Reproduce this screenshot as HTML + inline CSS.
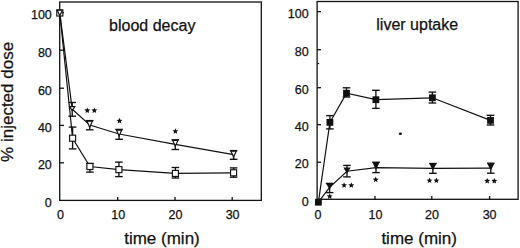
<!DOCTYPE html>
<html><head><meta charset="utf-8"><style>
html,body{margin:0;padding:0;background:#fff;}
body{width:520px;height:248px;overflow:hidden;}
svg{display:block;}
text{font-family:"Liberation Sans",sans-serif;fill:#111;stroke:#111;stroke-width:0.25px;}
</style></head><body>
<svg width="520" height="248" viewBox="0 0 520 248">
<g stroke="#111" stroke-width="1.3" fill="none">
<rect x="59.7" y="2" width="201.6" height="198.4"/>
<rect x="317.1" y="1.5" width="201" height="197.8"/>
<line x1="59.7" y1="12.7" x2="64" y2="12.7"/>
<line x1="59.7" y1="50.2" x2="64" y2="50.2"/>
<line x1="59.7" y1="88.2" x2="64" y2="88.2"/>
<line x1="59.7" y1="125.4" x2="64" y2="125.4"/>
<line x1="59.7" y1="162.8" x2="64" y2="162.8"/>
<line x1="117.7" y1="200.4" x2="117.7" y2="197"/>
<line x1="175.0" y1="200.4" x2="175.0" y2="197"/>
<line x1="232.2" y1="200.4" x2="232.2" y2="197"/>
<line x1="317.1" y1="11.6" x2="321" y2="11.6"/>
<line x1="317.1" y1="49.7" x2="321" y2="49.7"/>
<line x1="317.1" y1="87.7" x2="321" y2="87.7"/>
<line x1="317.1" y1="124.7" x2="321" y2="124.7"/>
<line x1="317.1" y1="162.2" x2="321" y2="162.2"/>
<line x1="317.1" y1="63.6" x2="319.2" y2="63.6" stroke-width="1.1"/>
<line x1="375" y1="199.3" x2="375" y2="196"/>
<line x1="431.8" y1="199.3" x2="431.8" y2="196"/>
<line x1="489.6" y1="199.3" x2="489.6" y2="196"/>
<polyline stroke-width="1.2" points="59.8,13.0 72.2,109.2 89.7,125.0 119.1,134.0 175.3,144.4 233.6,154.6"/>
<polyline stroke-width="1.2" points="59.8,13.0 72.6,138.2 89.9,166.5 118.9,169.6 175.4,173.4 233.6,172.8"/>
<polyline stroke-width="1.2" points="318.4,202.2 329.9,122.4 346.5,93.2 375.9,99.7 432.4,97.8 490.5,120.4"/>
<polyline stroke-width="1.2" points="318.4,202.2 329.6,187.3 347.0,171.2 376.0,167.6 432.9,168.4 490.8,168.2"/>
</g>
<g stroke="#111" stroke-width="1.35" fill="none">
<line x1="72.2" y1="102.5" x2="72.2" y2="116.2"/><line x1="68.40" y1="102.5" x2="76.00" y2="102.5"/><line x1="68.40" y1="116.2" x2="76.00" y2="116.2"/>
<line x1="89.7" y1="120.6" x2="89.7" y2="129.8"/><line x1="85.90" y1="120.6" x2="93.50" y2="120.6"/><line x1="85.90" y1="129.8" x2="93.50" y2="129.8"/>
<line x1="119.1" y1="129.4" x2="119.1" y2="139.3"/><line x1="115.30" y1="129.4" x2="122.90" y2="129.4"/><line x1="115.30" y1="139.3" x2="122.90" y2="139.3"/>
<line x1="175.3" y1="139.8" x2="175.3" y2="149.5"/><line x1="171.50" y1="139.8" x2="179.10" y2="139.8"/><line x1="171.50" y1="149.5" x2="179.10" y2="149.5"/>
<line x1="233.6" y1="150.6" x2="233.6" y2="159.3"/><line x1="229.80" y1="150.6" x2="237.40" y2="150.6"/><line x1="229.80" y1="159.3" x2="237.40" y2="159.3"/>
<line x1="72.6" y1="127.1" x2="72.6" y2="148.9"/><line x1="68.80" y1="127.1" x2="76.40" y2="127.1"/><line x1="68.80" y1="148.9" x2="76.40" y2="148.9"/>
<line x1="89.9" y1="163.5" x2="89.9" y2="172.1"/><line x1="86.10" y1="163.5" x2="93.70" y2="163.5"/><line x1="86.10" y1="172.1" x2="93.70" y2="172.1"/>
<line x1="118.9" y1="162.1" x2="118.9" y2="176.6"/><line x1="115.10" y1="162.1" x2="122.70" y2="162.1"/><line x1="115.10" y1="176.6" x2="122.70" y2="176.6"/>
<line x1="175.4" y1="167.5" x2="175.4" y2="178.0"/><line x1="171.60" y1="167.5" x2="179.20" y2="167.5"/><line x1="171.60" y1="178.0" x2="179.20" y2="178.0"/>
<line x1="233.6" y1="167.9" x2="233.6" y2="177.2"/><line x1="229.80" y1="167.9" x2="237.40" y2="167.9"/><line x1="229.80" y1="177.2" x2="237.40" y2="177.2"/>
<line x1="329.9" y1="115.6" x2="329.9" y2="128.9"/><line x1="326.10" y1="115.6" x2="333.70" y2="115.6"/><line x1="326.10" y1="128.9" x2="333.70" y2="128.9"/>
<line x1="346.5" y1="87.8" x2="346.5" y2="97.0"/><line x1="342.70" y1="87.8" x2="350.30" y2="87.8"/><line x1="342.70" y1="97.0" x2="350.30" y2="97.0"/>
<line x1="375.9" y1="90.3" x2="375.9" y2="108.4"/><line x1="372.10" y1="90.3" x2="379.70" y2="90.3"/><line x1="372.10" y1="108.4" x2="379.70" y2="108.4"/>
<line x1="432.4" y1="92.1" x2="432.4" y2="103.0"/><line x1="428.60" y1="92.1" x2="436.20" y2="92.1"/><line x1="428.60" y1="103.0" x2="436.20" y2="103.0"/>
<line x1="490.5" y1="115.3" x2="490.5" y2="125.0"/><line x1="486.70" y1="115.3" x2="494.30" y2="115.3"/><line x1="486.70" y1="125.0" x2="494.30" y2="125.0"/>
<line x1="329.6" y1="183.4" x2="329.6" y2="192.6"/><line x1="325.80" y1="183.4" x2="333.40" y2="183.4"/><line x1="325.80" y1="192.6" x2="333.40" y2="192.6"/>
<line x1="347.0" y1="165.4" x2="347.0" y2="176.9"/><line x1="343.20" y1="165.4" x2="350.80" y2="165.4"/><line x1="343.20" y1="176.9" x2="350.80" y2="176.9"/>
<line x1="376.0" y1="162.2" x2="376.0" y2="172.6"/><line x1="372.20" y1="162.2" x2="379.80" y2="162.2"/><line x1="372.20" y1="172.6" x2="379.80" y2="172.6"/>
<line x1="432.9" y1="163.5" x2="432.9" y2="173.3"/><line x1="429.10" y1="163.5" x2="436.70" y2="163.5"/><line x1="429.10" y1="173.3" x2="436.70" y2="173.3"/>
<line x1="490.8" y1="163.2" x2="490.8" y2="173.2"/><line x1="487.00" y1="163.2" x2="494.60" y2="163.2"/><line x1="487.00" y1="173.2" x2="494.60" y2="173.2"/>
</g>
<rect x="56.77" y="9.97" width="6.05" height="6.05" fill="#fff" stroke="#111" stroke-width="1.15"/>
<rect x="69.58" y="135.17" width="6.05" height="6.05" fill="#fff" stroke="#111" stroke-width="1.15"/>
<rect x="86.88" y="163.47" width="6.05" height="6.05" fill="#fff" stroke="#111" stroke-width="1.15"/>
<rect x="115.88" y="166.57" width="6.05" height="6.05" fill="#fff" stroke="#111" stroke-width="1.15"/>
<rect x="172.38" y="170.38" width="6.05" height="6.05" fill="#fff" stroke="#111" stroke-width="1.15"/>
<rect x="230.57" y="169.78" width="6.05" height="6.05" fill="#fff" stroke="#111" stroke-width="1.15"/>
<polygon points="69.55,106.60 74.85,106.60 72.20,110.50" fill="#fff" stroke="#111" stroke-width="1.2" stroke-linejoin="miter"/>
<polygon points="87.05,121.20 92.35,121.20 89.70,127.50" fill="#fff" stroke="#111" stroke-width="1.2" stroke-linejoin="miter"/>
<polygon points="116.45,130.10 121.75,130.10 119.10,135.90" fill="#fff" stroke="#111" stroke-width="1.2" stroke-linejoin="miter"/>
<polygon points="172.65,140.40 177.95,140.40 175.30,146.10" fill="#fff" stroke="#111" stroke-width="1.2" stroke-linejoin="miter"/>
<polygon points="230.95,151.20 236.25,151.20 233.60,157.00" fill="#fff" stroke="#111" stroke-width="1.2" stroke-linejoin="miter"/>
<polygon points="57.25,10.20 62.35,10.20 59.80,15.70" fill="#fff" stroke="#111" stroke-width="1.2" stroke-linejoin="miter"/>
<rect x="315.00" y="198.80" width="6.8" height="6.8" fill="#111"/>
<rect x="326.50" y="119.00" width="6.8" height="6.8" fill="#111"/>
<rect x="343.10" y="89.80" width="6.8" height="6.8" fill="#111"/>
<rect x="372.50" y="96.30" width="6.8" height="6.8" fill="#111"/>
<rect x="429.00" y="94.40" width="6.8" height="6.8" fill="#111"/>
<rect x="487.10" y="117.00" width="6.8" height="6.8" fill="#111"/>
<polygon points="326.00,183.40 333.20,183.40 329.60,189.60" fill="#111"/>
<polygon points="343.40,167.60 350.60,167.60 347.00,173.80" fill="#111"/>
<polygon points="372.40,162.20 379.60,162.20 376.00,170.00" fill="#111"/>
<polygon points="429.30,163.50 436.50,163.50 432.90,170.40" fill="#111"/>
<polygon points="487.20,163.60 494.40,163.60 490.80,170.50" fill="#111"/>
<polygon points="87.30,107.40 88.12,109.37 90.25,109.54 88.63,110.93 89.12,113.01 87.30,111.89 85.48,113.01 85.97,110.93 84.35,109.54 86.48,109.37" fill="#111"/>
<polygon points="94.40,107.40 95.22,109.37 97.35,109.54 95.73,110.93 96.22,113.01 94.40,111.89 92.58,113.01 93.07,110.93 91.45,109.54 93.58,109.37" fill="#111"/>
<polygon points="119.50,117.80 120.32,119.77 122.45,119.94 120.83,121.33 121.32,123.41 119.50,122.30 117.68,123.41 118.17,121.33 116.55,119.94 118.68,119.77" fill="#111"/>
<polygon points="175.40,128.20 176.22,130.17 178.35,130.34 176.73,131.73 177.22,133.81 175.40,132.70 173.58,133.81 174.07,131.73 172.45,130.34 174.58,130.17" fill="#111"/>
<polygon points="329.70,193.30 330.52,195.27 332.65,195.44 331.03,196.83 331.52,198.91 329.70,197.80 327.88,198.91 328.37,196.83 326.75,195.44 328.88,195.27" fill="#111"/>
<polygon points="344.10,182.20 344.92,184.17 347.05,184.34 345.43,185.73 345.92,187.81 344.10,186.70 342.28,187.81 342.77,185.73 341.15,184.34 343.28,184.17" fill="#111"/>
<polygon points="351.30,182.20 352.12,184.17 354.25,184.34 352.63,185.73 353.12,187.81 351.30,186.70 349.48,187.81 349.97,185.73 348.35,184.34 350.48,184.17" fill="#111"/>
<polygon points="375.70,176.60 376.52,178.57 378.65,178.74 377.03,180.13 377.52,182.21 375.70,181.09 373.88,182.21 374.37,180.13 372.75,178.74 374.88,178.57" fill="#111"/>
<polygon points="429.50,177.50 430.32,179.47 432.45,179.64 430.83,181.03 431.32,183.11 429.50,182.00 427.68,183.11 428.17,181.03 426.55,179.64 428.68,179.47" fill="#111"/>
<polygon points="436.40,177.50 437.22,179.47 439.35,179.64 437.73,181.03 438.22,183.11 436.40,182.00 434.58,183.11 435.07,181.03 433.45,179.64 435.58,179.47" fill="#111"/>
<polygon points="487.20,177.90 488.02,179.87 490.15,180.04 488.53,181.43 489.02,183.51 487.20,182.40 485.38,183.51 485.87,181.43 484.25,180.04 486.38,179.87" fill="#111"/>
<polygon points="494.30,177.90 495.12,179.87 497.25,180.04 495.63,181.43 496.12,183.51 494.30,182.40 492.48,183.51 492.97,181.43 491.35,180.04 493.48,179.87" fill="#111"/>
<ellipse cx="400.4" cy="133.8" rx="1.6" ry="1.2" fill="#111"/>
<text x="51.8" y="19.1" text-anchor="end" font-size="12.5">100</text>
<text x="51.8" y="56.6" text-anchor="end" font-size="12.5">80</text>
<text x="51.8" y="94.60000000000001" text-anchor="end" font-size="12.5">60</text>
<text x="51.8" y="131.8" text-anchor="end" font-size="12.5">40</text>
<text x="51.8" y="169.20000000000002" text-anchor="end" font-size="12.5">20</text>
<text x="51.8" y="206.8" text-anchor="end" font-size="12.5">0</text>
<text x="308.6" y="17.8" text-anchor="end" font-size="12.5">100</text>
<text x="308.6" y="55.900000000000006" text-anchor="end" font-size="12.5">80</text>
<text x="308.6" y="93.9" text-anchor="end" font-size="12.5">60</text>
<text x="308.6" y="130.9" text-anchor="end" font-size="12.5">40</text>
<text x="308.6" y="168.39999999999998" text-anchor="end" font-size="12.5">20</text>
<text x="308.6" y="205.5" text-anchor="end" font-size="12.5">0</text>
<text x="60.6" y="218.7" text-anchor="middle" font-size="12.5">0</text>
<text x="118.3" y="218.7" text-anchor="middle" font-size="12.5">10</text>
<text x="175.4" y="218.7" text-anchor="middle" font-size="12.5">20</text>
<text x="232.6" y="218.7" text-anchor="middle" font-size="12.5">30</text>
<text x="317.9" y="218.5" text-anchor="middle" font-size="12.5">0</text>
<text x="375.5" y="218.5" text-anchor="middle" font-size="12.5">10</text>
<text x="432" y="218.5" text-anchor="middle" font-size="12.5">20</text>
<text x="489.6" y="218.5" text-anchor="middle" font-size="12.5">30</text>
<text x="109.1" y="30.8" text-anchor="start" font-size="16">blood decay</text>
<text x="376.3" y="30.3" text-anchor="start" font-size="16">liver uptake</text>
<text x="124.2" y="244.2" text-anchor="start" font-size="17">time (min)</text>
<text x="381.4" y="244.2" text-anchor="start" font-size="17">time (min)</text>
<text transform="translate(13.3,161.9) rotate(-90)" x="0" y="0" font-size="17">% injected dose</text>
</svg>
</body></html>
